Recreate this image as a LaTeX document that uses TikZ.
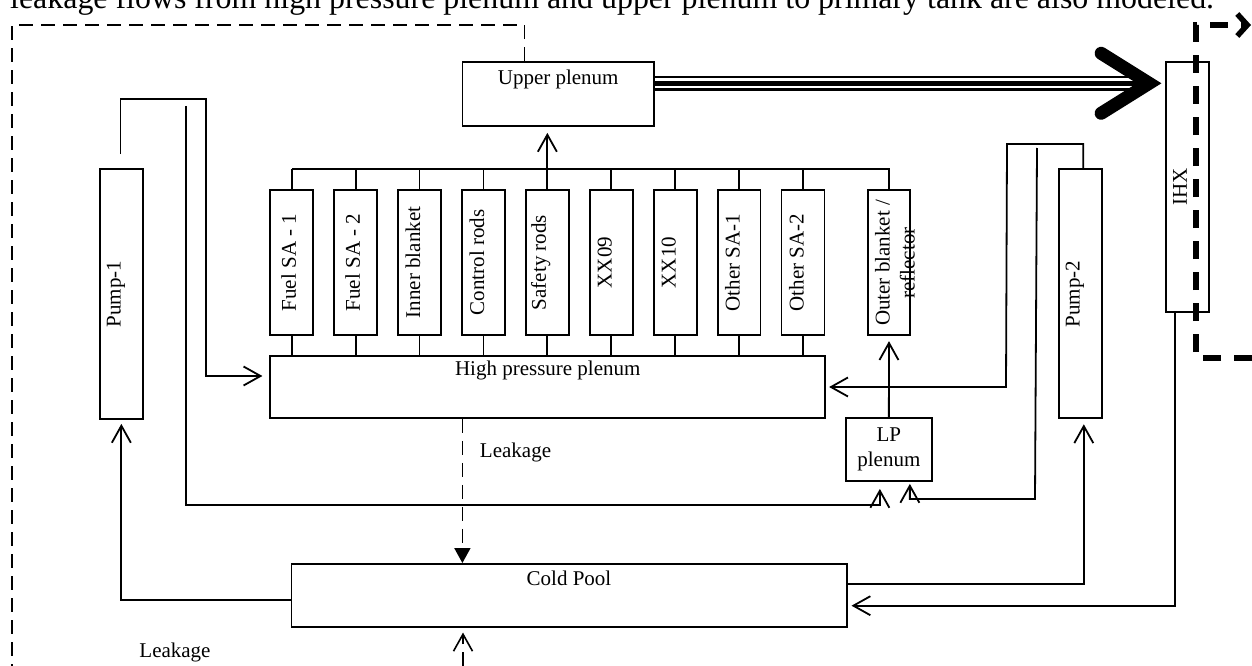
\documentclass[tikz,border=0pt]{standalone}
\usepackage{fontspec}
\setmainfont{Liberation Serif}
\usetikzlibrary{arrows.meta,calc}
\tikzset{
  box/.style={draw, line width=1.8pt, inner sep=0pt},
  lab/.style={font=\fontsize{21}{25}\selectfont, inner sep=0pt},
  vlab/.style={lab, rotate=90},
  conn/.style={line width=1.8pt},
  barb/.style={conn, -{Straight Barb[length=17pt,width=19pt]}},
  leak/.style={line width=1.6pt, dash pattern=on 14pt off 8pt},
  thickdash/.style={line width=5.5pt, dash pattern=on 18pt off 13pt},
}
\begin{document}
\begin{tikzpicture}[x=1pt,y=-1pt]
\clip (0,0) rectangle (1252,666);
% clipped caption line above the figure
\node[anchor=base west, inner sep=0pt, font=\fontsize{31.9}{38}\selectfont] (cap) at (10,9)
  {leakage flows from high pressure plenum and upper plenum to primary tank are also modeled.};

% main boxes
\node[box, minimum width=191.6pt, minimum height=64pt] (up) at (558.2,94) {};
\node[lab] (uplab) at (558.2,79) {Upper plenum};
\node[box, minimum width=554.9pt, minimum height=62pt] (hp) at (547.75,387) {};
\node[lab] (hplab) at (547.75,370) {High pressure plenum};
\node[box, minimum width=555.2pt, minimum height=62.7pt] (cp) at (569,595.3) {};
\node[lab] (cplab) at (569,578.3) {Cold Pool};
\node[box, minimum width=42.7pt, minimum height=250pt] (p1) at (121.35,294) {};
\node[vlab] (p1lab) at (116,294) {Pump-1};
\node[box, minimum width=43pt, minimum height=249.3pt] (p2) at (1080.8,293.7) {};
\node[vlab] (p2lab) at (1075,294) {Pump-2};
\node[box, minimum width=43.3pt, minimum height=250pt] (ihx) at (1187.7,187.3) {};
\node[vlab] (ihxlab) at (1180,187) {IHX};
\node[box, minimum width=42.6pt, minimum height=145.3pt] (ob) at (889,262.6) {};
\node[vlab, align=center] (oblab) at (895,263) {Outer blanket /\\reflector};
\node[box, lab, align=center, minimum width=85.7pt, minimum height=63pt] (lp) at (888.85,449.5) {LP\\plenum};

% core subassemblies
\coordinate (bus) at (0,169);
\foreach \i/\t/\o in {0/Fuel SA - 1/-3, 1/Fuel SA - 2/-3, 2/Inner blanket/-6.5, 3/Control rods/-6.5,
    4/Safety rods/-6.5, 5/XX09/-6.5, 6/XX10/-6.5, 7/Other SA-1/-6.5, 8/Other SA-2/-6.5} {
  \node[box, minimum width=42.9pt, minimum height=145pt] (c\i) at ({291.75+63.9*\i},262.5) {};
  \node[vlab] (t\i) at ($(c\i)+(\o,0)$) {\t};
  \draw[conn] (c\i.north) -- (c\i.north |- bus);
  \draw[conn] (c\i.south) -- (c\i.south |- hp.north);
}
\draw[conn] (c0.north |- bus) -- (ob.north |- bus) -- (ob.north);
\draw[barb, shorten >=6pt] (c4.north |- bus) -- (c4.north |- up.south);

% pump 1 outlet and inlet
\coordinate (p1out) at (120.4,154);
\draw[barb, shorten >=7pt] (p1out) -- (120.4,99) -- (206,99) -- (206,376) -- ($(hp.west)+(0,-11)$);
\coordinate (in1) at (185.7,106);
\draw[barb, shorten >=7pt] (in1) -- (185.7,505) -| ($(lp.south)+(-9,0)$);

% pump 2 outlet and inlet
\draw[barb, shorten >=3pt] ($(p2.north)+(2.5,0)$) -- (1083.3,144) -- (1007,144) -- (1006,387) -- (hp.east);
\coordinate (in2) at (1037,148);
\draw[barb, shorten >=2pt] (in2) -- (1035,499) -| ($(lp.south)+(21,0)$);

\draw[barb, shorten >=5pt] (lp.north) -- (ob.south);

% cold pool connections
\draw[barb, shorten >=4pt] ($(cp.west)+(0,4.7)$) -| (p1.south);
\draw[barb, shorten >=5pt] ($(cp.east)+(0,-11)$) -| ($(p2.south)+(3,0)$);
\draw[barb, shorten >=4pt] ($(ihx.south)+(-13,0)$) |- ($(cp.east)+(0,10.4)$);

% leakages
\draw[leak, -{Triangle[length=15pt,width=16pt]}] ($(hp.south)+(-85.35,0)$) -- ($(cp.north)+(-106.6,0)$);
\node[lab] (lk1) at (515.5,452) {Leakage};
\coordinate (lk2s) at (463,666);
\draw[leak, -{Straight Barb[length=17pt,width=19pt]}, shorten >=5pt] (lk2s) -- ($(cp.south)+(-106,0)$);
\node[lab] (lk2) at (175,652) {Leakage};
\draw[leak] ($(up.north)+(-33.7,0)$) -- (524.5,25) -- (12,25) -- (12,666);

% hot leg: upper plenum to IHX
\coordinate (V) at ($(ihx.west)+(-16,-104)$);
\coordinate (S) at ($(up.east)+(0,-10.7)$);
\draw[line width=15pt] (S) -- (V);
\draw[line width=10pt, white] (S) -- (V);
\draw[line width=5pt] (S) -- (V);
\draw[line width=13pt, line cap=round, line join=miter] ($(V)+(-48,-30)$) -- (V) -- ($(V)+(-48,30)$);

% secondary side (thick dashed)
\coordinate (sa) at (1252,358);
\coordinate (sb) at (1251,25);
\draw[thickdash, -{Straight Barb[length=10pt,width=22pt]}] (sa) -- (1196,358) -- (1196,25) -- (sb);
\end{tikzpicture}
\end{document}
